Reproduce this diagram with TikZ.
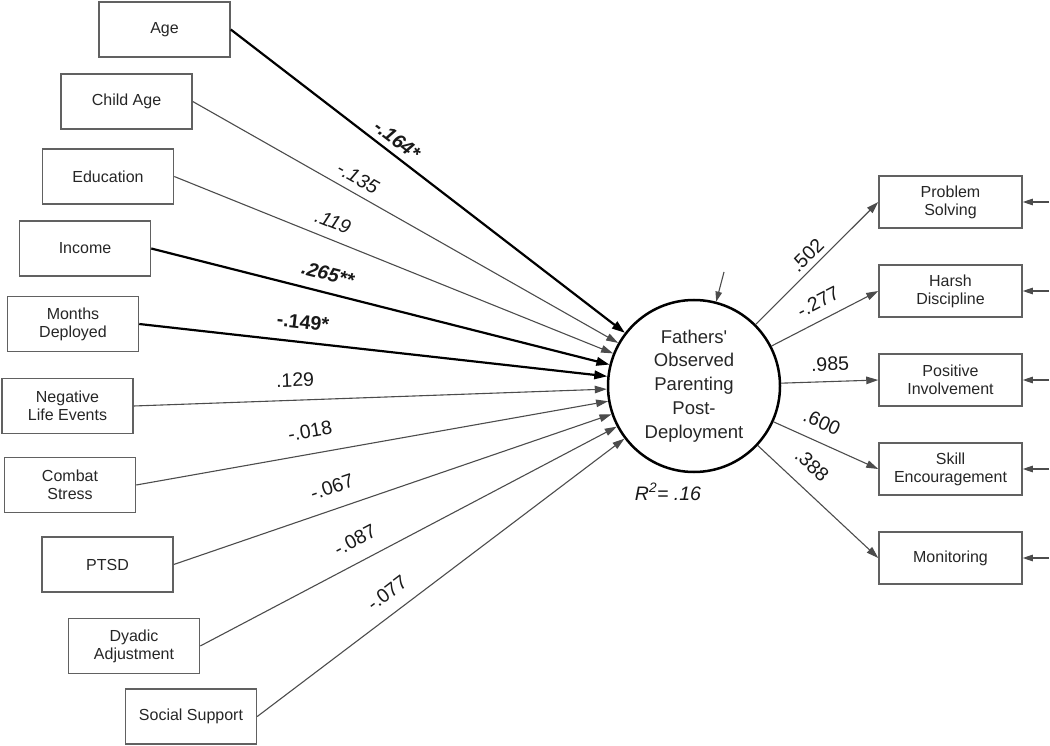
\documentclass[tikz,border=0pt]{standalone}
\usepackage{fontspec}
\setmainfont{Liberation Sans}
\usetikzlibrary{arrows.meta}
\begin{document}
\begin{tikzpicture}[x=1pt,y=-1pt,
  box/.style={draw=black!62, line width=1.5pt, minimum width=131pt, minimum height=55pt, inner sep=0pt, align=center, font=\fontsize{16}{18}\selectfont, text=black!85},
  rbox/.style={box, minimum width=143pt, minimum height=52pt},
  latent/.style={circle, draw=black, line width=2.5pt, minimum size=172pt, inner sep=0pt, align=center, font=\fontsize{18.5}{23.8}\selectfont, text=black!85},
  weakarrow/.style={draw=black!70, line width=1.1pt, -{Triangle[length=12pt,width=7.5pt]}},
  strongarrow/.style={draw=black, line width=2.2pt, -{Triangle[length=13pt,width=8.5pt]}},
  errarrow/.style={weakarrow, -{Triangle[length=10pt,width=6.5pt]}},
  coef/.style={font=\fontsize{19.5}{19.5}\selectfont, inner sep=0pt, text=black!90},
]
\useasboundingbox (0,0) rectangle (1050,746);

% latent variable
\node[latent] (c) at (694,386) {Fathers\textquotesingle\\Observed\\Parenting\\Post-\\Deployment};
\node[coef, font=\fontsize{19.5}{19.5}\selectfont\itshape] (r2) at (668,492) {R\textsuperscript{2}= .16};

% predictors
\node[box] (age)  at (164.5,29.5) {Age};
\node[box] (cage) at (126.5,101.5) {Child Age};
\node[box] (edu)  at (108,176.5) {Education};
\node[box] (inc)  at (85,248.5) {Income};
\node[box] (mon)  at (73,324) {Months\\Deployed};
\node[box] (neg)  at (67.5,406) {Negative\\Life Events};
\node[box] (com)  at (70,485) {Combat\\Stress};
\node[box] (ptsd) at (107.5,564.5) {PTSD};
\node[box] (dya)  at (134,646) {Dyadic\\Adjustment};
\node[box] (soc)  at (191,716.5) {Social Support};

% indicators
\node[rbox] (ps) at (950.5,202) {Problem\\Solving};
\node[rbox] (hd) at (950.5,291) {Harsh\\Discipline};
\node[rbox] (pi) at (950.5,380) {Positive\\Involvement};
\node[rbox] (se) at (950.5,469) {Skill\\Encouragement};
\node[rbox] (mo) at (950.5,558) {Monitoring};

% predictor paths
\draw[strongarrow] (age.east) -- (c);
\draw[weakarrow] (cage.east) -- (c);
\draw[weakarrow] (edu.east) -- (c);
\draw[strongarrow] (inc.east) -- (c);
\draw[strongarrow] (mon.east) -- (c);
\draw[weakarrow] (neg.east) -- (c);
\draw[weakarrow] (com.east) -- (c);
\draw[weakarrow] (ptsd.east) -- (c);
\draw[weakarrow] (dya.east) -- (c);
\draw[weakarrow] (soc.east) -- (c);

% loadings
\draw[weakarrow] (c) -- (ps.west);
\draw[weakarrow] (c) -- (hd.west);
\draw[weakarrow] (c) -- (pi.west);
\draw[weakarrow] (c) -- (se.west);
\draw[weakarrow] (c) -- (mo.west);

% error terms
\coordinate (ez) at (724,272);
\coordinate (e1) at (1049,202);
\coordinate (e2) at (1049,291);
\coordinate (e3) at (1049,380);
\coordinate (e4) at (1049,469);
\coordinate (e5) at (1049,558);
\draw[errarrow] (ez) -- (c);
\draw[errarrow] (e1) -- (ps.east);
\draw[errarrow] (e2) -- (hd.east);
\draw[errarrow] (e3) -- (pi.east);
\draw[errarrow] (e4) -- (se.east);
\draw[errarrow] (e5) -- (mo.east);

% coefficient labels
\node[coef, rotate=-37.6, font=\fontsize{19.5}{19.5}\selectfont\bfseries\itshape] (l1) at (397,140) {-.164*};
\node[coef, rotate=-29.5, font=\fontsize{19.5}{19.5}\selectfont\itshape] (l2) at (358,178) {-.135};
\node[coef, rotate=-21.9, font=\fontsize{19.5}{19.5}\selectfont\itshape] (l3) at (333,222) {.119};
\node[coef, rotate=-14.2, font=\fontsize{19.5}{19.5}\selectfont\bfseries\itshape] (l4) at (328,274) {.265**};
\node[coef, rotate=-6.4, font=\fontsize{19.5}{19.5}\selectfont\bfseries] (l5) at (303,322) {-.149*};
\node[coef, rotate=2.0] (l6) at (295,380) {.129};
\node[coef, rotate=10.1] (l7) at (310,431) {-.018};
\node[coef, rotate=18.9] (l8) at (332,487) {-.067};
\node[coef, rotate=27.8] (l9) at (355,540) {-.087};
\node[coef, rotate=37.1] (l10) at (387,593) {-.077};

\node[coef, rotate=44.8] (m1) at (807,255) {.502};
\node[coef, rotate=27.2] (m2) at (818,302) {-.277};
\node[coef, rotate=1.9] (m3) at (830,364) {.985};
\node[coef, rotate=-24.2] (m4) at (822,422) {.600};
\node[coef, rotate=-42.9] (m5) at (812,465) {.388};
\end{tikzpicture}
\end{document}
